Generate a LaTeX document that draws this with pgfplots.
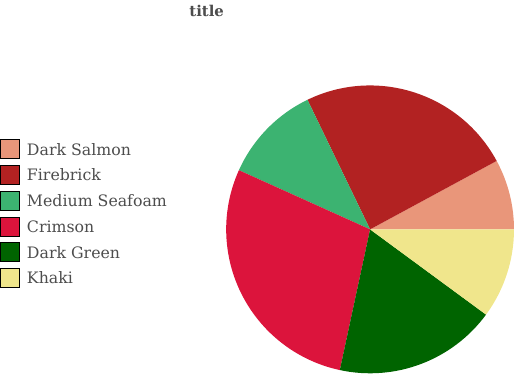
\documentclass[border=0pt]{standalone}
\usepackage{pgfplots}
\usepackage{pgfplotstable}
\pgfplotsset{compat=1.18}
\usepackage{fontspec}
\setmainfont{DejaVu Serif}

\definecolor{col0}{HTML}{E9967A}
\definecolor{col1}{HTML}{B22222}
\definecolor{col2}{HTML}{3CB371}
\definecolor{col3}{HTML}{DC143C}
\definecolor{col4}{HTML}{006400}
\definecolor{col5}{HTML}{F0E68C}
\definecolor{txt}{HTML}{4D4D4D}

% slice shares, in percent, counterclockwise from east
\pgfplotstableread{
name value
DarkSalmon 7.9
Firebrick 24.3
MediumSeafoam 11.1
Crimson 28.4
DarkGreen 18.3
Khaki 10.1
}\piedata

\begin{document}
\begin{tikzpicture}
\begin{axis}[
    hide axis,
    scale only axis,
    width=385.5pt, height=300pt,
    xmin=0, xmax=514, ymin=0, ymax=400,
    clip=false,
    legend style={
        at={(axis cs:12,268)}, anchor=north west,
        draw=none, fill=none, inner sep=0pt,
        font=\fontsize{10.6}{12}\selectfont\color{txt},
        row sep=4.1pt,
        nodes={inner sep=0pt, outer sep=0pt, text depth=0pt},
    },
    legend cell align=left,
    legend image code/.code={
        \fill[#1] (0pt,-6.4pt) rectangle (12.75pt,6.4pt);
    },
]
\addlegendimage{fill=col0}
\addlegendentry{\hspace{5pt}Dark Salmon}
\addlegendimage{fill=col1}
\addlegendentry{\hspace{5pt}Firebrick}
\addlegendimage{fill=col2}
\addlegendentry{\hspace{5pt}Medium Seafoam}
\addlegendimage{fill=col3}
\addlegendentry{\hspace{5pt}Crimson}
\addlegendimage{fill=col4}
\addlegendentry{\hspace{5pt}Dark Green}
\addlegendimage{fill=col5}
\addlegendentry{\hspace{5pt}Khaki}

\pgfplotsextra{
    \gdef\total{0}
    \pgfplotstableforeachcolumnelement{value}\of\piedata\as\v{
        \pgfmathsetmacro\t{\total+\v}
        \xdef\total{\t}
    }
    \gdef\cum{0}
    \pgfplotstableforeachcolumnelement{value}\of\piedata\as\v{
        \pgfmathsetmacro\a{\cum}
        \pgfmathsetmacro\b{\cum+\v/\total*360}
        \fill[col\pgfplotstablerow] (axis cs:344,187) -- ++(\a:96.75pt)
            arc[start angle=\a, end angle=\b, radius=96.75pt] -- cycle;
        \xdef\cum{\b}
    }
}

\node[font=\fontsize{10}{11}\selectfont\bfseries, text=txt] at (axis cs:197.5,383) {title};
\end{axis}
\end{tikzpicture}
\end{document}
